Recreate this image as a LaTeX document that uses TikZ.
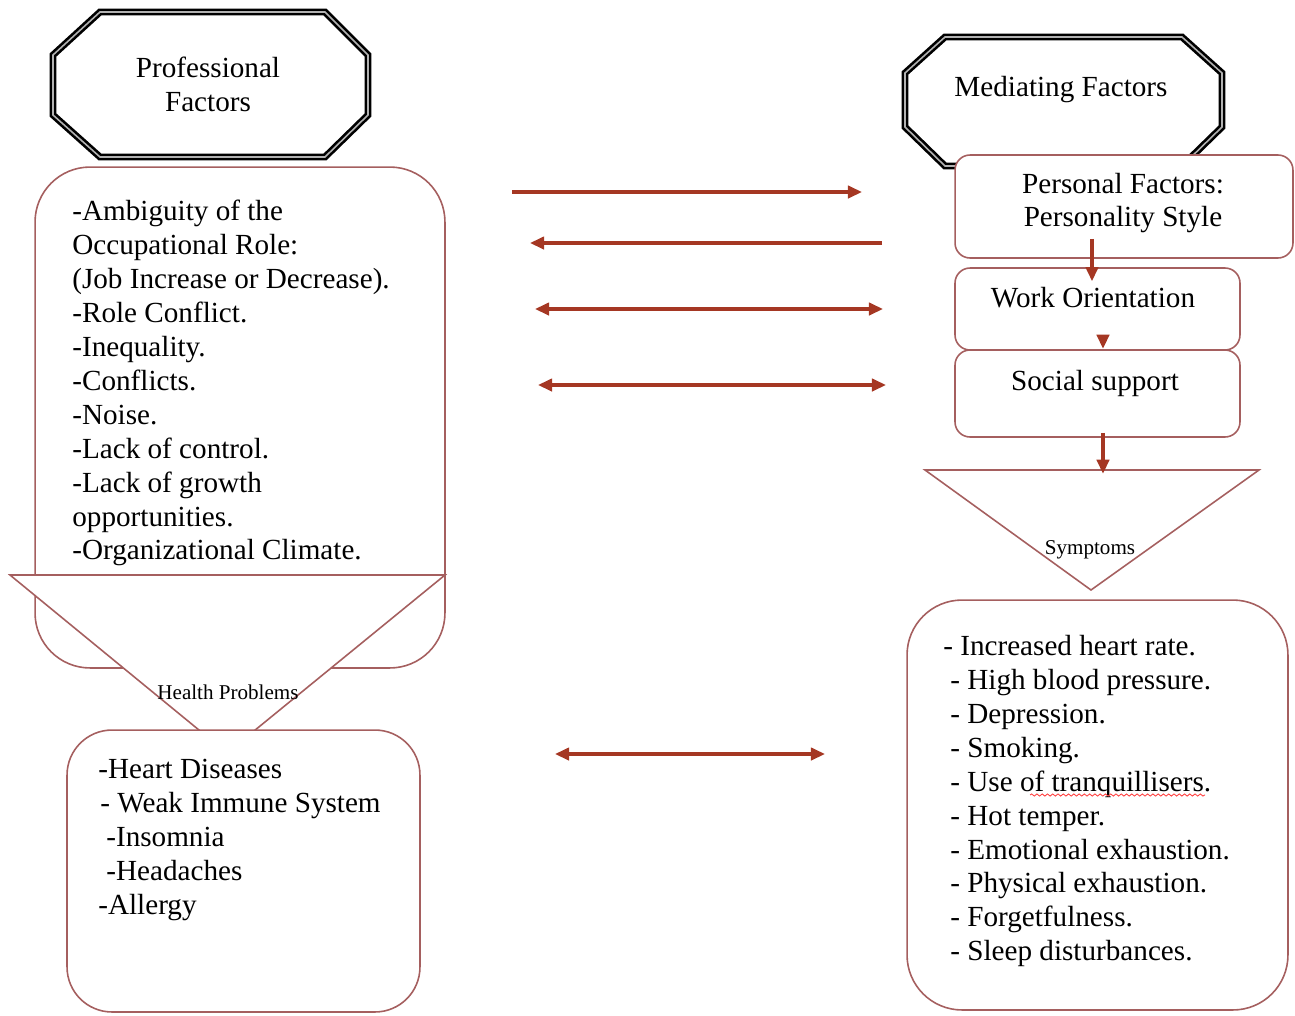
\documentclass[tikz,border=0pt]{standalone}
\usepackage{fontspec}
\setmainfont{Liberation Serif}
\usetikzlibrary{arrows.meta,decorations.pathmorphing}

\definecolor{boxline}{RGB}{165,95,95}
\definecolor{arrowred}{RGB}{165,55,35}

\tikzset{
  octa/.style={draw=black, line width=1.5pt, double=gray!60, double distance=0.9pt, fill=white},
  roundbox/.style={draw=boxline, line width=0.9pt, fill=white, inner sep=0pt},
  funnel/.style={draw=boxline, line width=0.9pt, fill=white},
  link/.style={draw=arrowred, line width=1.8pt, -{Triangle[length=8pt,width=7pt]}},
  twoway/.style={draw=arrowred, line width=1.8pt, {Triangle[length=8pt,width=7pt]}-{Triangle[length=8pt,width=7pt]}},
  listtext/.style={anchor=north west, inner sep=0pt, align=left, font=\fontsize{16.6}{19.3}\selectfont},
  headtext/.style={inner sep=0pt, align=center, font=\fontsize{16.6}{19.3}\selectfont},
  tinylabel/.style={inner sep=0pt, font=\fontsize{12}{14}\selectfont}
}

\begin{document}
\begin{tikzpicture}[x=0.02cm, y=-0.02cm]

\useasboundingbox (0,0) rectangle (1295,1015);

% Octagon corners of the two titles
\coordinate (P1) at (100,12);
\coordinate (P2) at (325,12);
\coordinate (P3) at (368,55);
\coordinate (P4) at (368,115);
\coordinate (P5) at (325,157);
\coordinate (P6) at (100,157);
\coordinate (P7) at (53,115);
\coordinate (P8) at (53,55);

\coordinate (M1) at (945,37);
\coordinate (M2) at (1182,37);
\coordinate (M3) at (1222,73);
\coordinate (M4) at (1222,127);
\coordinate (M5) at (1182,166);
\coordinate (M6) at (945,166);
\coordinate (M7) at (905,127);
\coordinate (M8) at (905,73);

% Draw the title octagons
\draw[octa] (P1) -- (P2) -- (P3) -- (P4) -- (P5) -- (P6) -- (P7) -- (P8) -- cycle;
\draw[octa] (M1) -- (M2) -- (M3) -- (M4) -- (M5) -- (M6) -- (M7) -- (M8) -- cycle;
\node[headtext] (prof) at (208,84) {Professional\\Factors};
\node[headtext] (med) at (1061,90) {Mediating Factors};

% Left column: professional factors and health problems
\node[roundbox, rounded corners=1.1cm, minimum width=8.2cm, minimum height=10.02cm] (factors) at (240,417.5) {};
\node[listtext] (factorlist) at (72,200) {-Ambiguity of the\\Occupational Role:\\(Job Increase or Decrease).\\-Role Conflict.\\-Inequality.\\-Conflicts.\\-Noise.\\-Lack of control.\\-Lack of growth\\opportunities.\\-Organizational Climate.};

\coordinate (HL) at (10,575);
\coordinate (HR) at (445,575);
\coordinate (HB) at (227,753);
\draw[funnel] (HL) -- (HR) -- (HB) -- cycle;
\node[tinylabel] (health) at (228,692) {Health Problems};

\node[roundbox, rounded corners=0.9cm, minimum width=7.06cm, minimum height=5.64cm] (illness) at (243.5,871) {};
\node[listtext] (illnesslist) at (98,759) {-Heart Diseases\\\hspace*{0.04cm}- Weak Immune System\\\hspace*{0.16cm}-Insomnia\\\hspace*{0.16cm}-Headaches\\-Allergy};

% Right column: mediating factors and symptoms
\node[roundbox, rounded corners=0.3cm, minimum width=6.76cm, minimum height=2.06cm] (personal) at (1124,206.5) {};
\node[headtext] (personaltext) at (1123,203) {Personal Factors:\\Personality Style};
\node[roundbox, rounded corners=0.3cm, minimum width=5.7cm, minimum height=1.64cm] (work) at (1097.5,309) {};
\node[headtext] (worktext) at (1093,298) {Work Orientation};
\node[roundbox, rounded corners=0.3cm, minimum width=5.7cm, minimum height=1.74cm] (social) at (1097.5,393.5) {};
\node[headtext] (socialtext) at (1095,383) {Social support};

\draw[link] ([xshift=-0.11cm, yshift=0.4cm]personal.south -| work.north) -- ([xshift=-0.11cm, yshift=-0.28cm]work.north);
\draw[link] ([xshift=0.11cm, yshift=0.25cm]work.south) -- ([xshift=0.11cm, yshift=0.04cm]work.south);

\coordinate (SL) at (925,470);
\coordinate (SR) at (1259,470);
\coordinate (SB) at (1091,590);
\draw[funnel] (SL) -- (SR) -- (SB) -- cycle;
\draw[link] ([xshift=0.11cm, yshift=0.1cm]social.south) -- ([xshift=0.11cm, yshift=-0.72cm]social.south);
\node[tinylabel] (symptoms) at (1090,550) {Symptoms};

\node[roundbox, rounded corners=1.1cm, minimum width=7.62cm, minimum height=8.2cm] (signs) at (1097.5,805) {};
\node[listtext] (signlist) at (950,635) {\hspace*{-0.14cm}- Increased heart rate.\\- High blood pressure.\\- Depression.\\- Smoking.\\- Use of tranquillisers.\\- Hot temper.\\- Emotional exhaustion.\\- Physical exhaustion.\\- Forgetfulness.\\- Sleep disturbances.};
\draw[red!75, line width=0.5pt, decorate, decoration={snake, amplitude=0.6pt, segment length=3pt}] (1030,795) -- (1205,795);

% Arrows between the columns
\coordinate (a1) at (512,192);
\coordinate (b1) at (862,192);
\coordinate (a2) at (530,243);
\coordinate (b2) at (882,243);
\coordinate (a3) at (535,309);
\coordinate (b3) at (883,309);
\coordinate (a4) at (538,385);
\coordinate (b4) at (886,385);
\coordinate (a5) at (555,754);
\coordinate (b5) at (825,754);

\draw[link] (a1) -- (b1);
\draw[link] (b2) -- (a2);
\draw[twoway] (a3) -- (b3);
\draw[twoway] (a4) -- (b4);
\draw[twoway] (a5) -- (b5);

\end{tikzpicture}
\end{document}
